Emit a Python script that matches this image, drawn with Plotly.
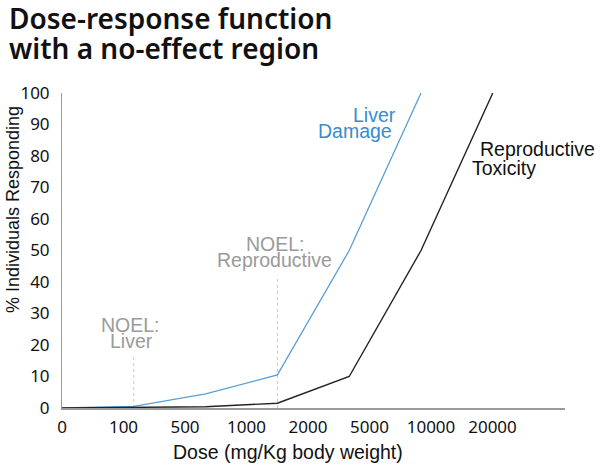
import plotly.graph_objects as go

# Data
dose_labels = ["0", "100", "500", "1000", "2000", "5000", "10000", "20000"]
point_index = [0, 1, 2, 3, 4, 5, 6]
liver_damage = [0, 0.5, 4.5, 10.5, 50, 100]
reproductive_toxicity = [0, 0.2, 0.4, 1.5, 10, 50, 100]
y_ticks = [0, 10, 20, 30, 40, 50, 60, 70, 80, 90, 100]
noel_liver_x = 1
noel_liver_top = 17
noel_repro_x = 3
noel_repro_top = 42

# Layout geometry (page pixels)
PLOT_L, PLOT_R, PLOT_T, PLOT_B = 62, 565, 93, 408
FIG_W, FIG_H = 600, 466
SPACING = 71.8          # px per point index
LABEL_STEP = 61.5 / SPACING


def to_paper(xp, yp):
    return (xp - PLOT_L) / (PLOT_R - PLOT_L), (PLOT_B - yp) / (PLOT_B - PLOT_T)


fig = go.Figure()

# NOEL dotted guide lines
for xv, top in [(noel_liver_x, noel_liver_top), (noel_repro_x, noel_repro_top)]:
    fig.add_trace(go.Scatter(x=[xv, xv], y=[0, top], mode="lines",
                             line=dict(color="#c8c8c8", width=1, dash="dot"),
                             hoverinfo="skip", showlegend=False))

fig.add_trace(go.Scatter(x=point_index[:len(liver_damage)], y=liver_damage, mode="lines",
                         line=dict(color="#5a9ed6", width=1.3), showlegend=False, cliponaxis=False))
fig.add_trace(go.Scatter(x=point_index, y=reproductive_toxicity, mode="lines",
                         line=dict(color="#222222", width=1.4), showlegend=False, cliponaxis=False))

label_font = "Liberation Sans, Arial, sans-serif"
tick_font = "Noto Sans, Open Sans, sans-serif"
title_font = "Noto Sans, sans-serif"

anns = [
    # (text, x_px, y_px, xanchor, color)
    ("Liver", 398, 115, "right", "#3a8bcc"),
    ("Damage", 394, 130.5, "right", "#3a8bcc"),
    ("Reproductive", 478, 149, "left", "#111111"),
    ("Toxicity", 470, 168, "left", "#111111"),
    ("NOEL:", 275, 244, "center", "#9a9a9a"),
    ("Reproductive", 274, 259.5, "center", "#9a9a9a"),
    ("NOEL:", 130, 325, "center", "#9a9a9a"),
    ("Liver", 131, 340.5, "center", "#9a9a9a"),
]
for text, xp, yp, xa, col in anns:
    px, py = to_paper(xp, yp)
    fig.add_annotation(text=text, x=px, y=py, xref="paper", yref="paper",
                       xanchor=xa, yanchor="middle", showarrow=False,
                       font=dict(family=label_font, size=19.5, color=col))

# Title lines
for text, yp in [("Dose-response function", 18), ("with a no-effect region", 48)]:
    px, py = to_paper(7, yp)
    fig.add_annotation(text=text, x=px, y=py, xref="paper", yref="paper",
                       xanchor="left", yanchor="middle", showarrow=False,
                       font=dict(family=title_font, size=28, color="#111111", weight=600))

# Axis titles
px, py = to_paper(288, 452)
fig.add_annotation(text="Dose (mg/Kg body weight)", x=px, y=py, xref="paper", yref="paper",
                   showarrow=False, xanchor="center", yanchor="middle",
                   font=dict(family=label_font, size=19.5, color="#111111"))
px, py = to_paper(13, 210)
fig.add_annotation(text="% Individuals Responding", x=px, y=py, xref="paper", yref="paper",
                   showarrow=False, xanchor="center", yanchor="middle", textangle=-90,
                   font=dict(family=label_font, size=18, color="#111111"))

fig.update_layout(
    width=FIG_W, height=FIG_H,
    margin=dict(l=PLOT_L, r=FIG_W - PLOT_R, t=PLOT_T, b=FIG_H - PLOT_B),
    paper_bgcolor="white", plot_bgcolor="white",
    xaxis=dict(range=[0, (PLOT_R - PLOT_L) / SPACING], showgrid=False, zeroline=False,
               showline=True, linecolor="#9a9a9a", linewidth=1.5,
               tickvals=[k * LABEL_STEP for k in range(len(dose_labels))], ticktext=dose_labels,
               ticks="", ticklabelstandoff=3,
               tickfont=dict(family=tick_font, size=17, color="#111111")),
    yaxis=dict(range=[0, 100], showgrid=False, zeroline=False,
               showline=True, linecolor="#9a9a9a", linewidth=1,
               tickvals=y_ticks, ticks="", ticklabelstandoff=8,
               tickfont=dict(family=tick_font, size=17, color="#111111")),
)

fig.write_html("out.html", config={"displayModeBar": False},
               post_script="document.body.style.margin='0';document.body.style.overflow='hidden';")
